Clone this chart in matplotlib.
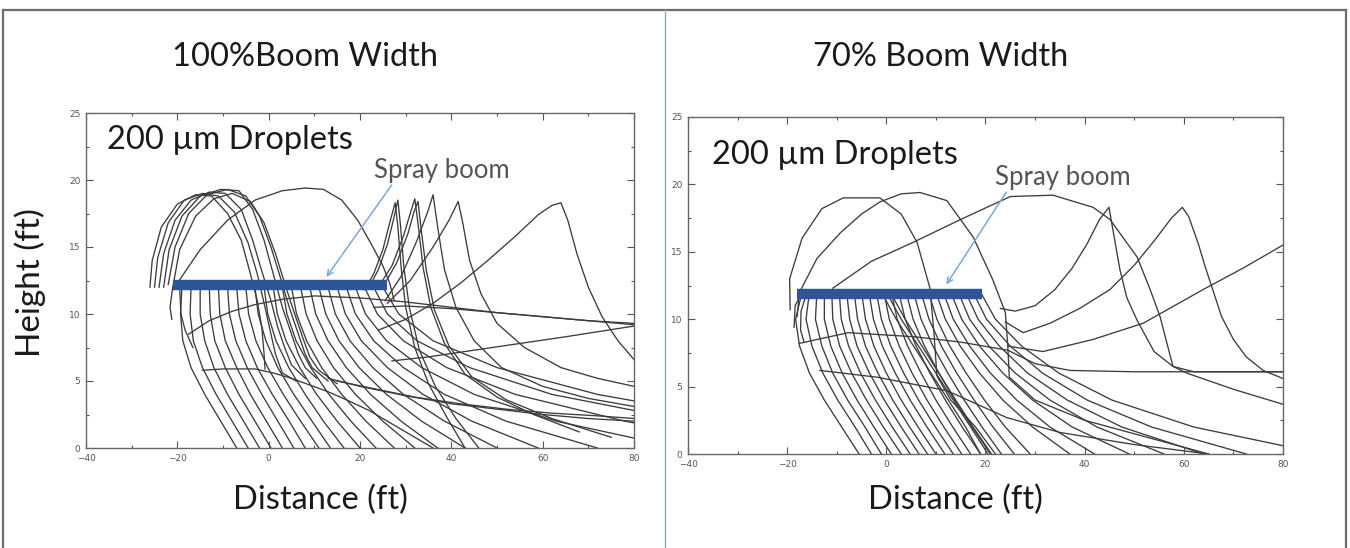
import matplotlib
matplotlib.use('Agg')
import matplotlib.pyplot as plt
from matplotlib.lines import Line2D
from matplotlib.ticker import MultipleLocator

# ---- values (feet) ----
fan_y = [12, 10, 8, 6, 4, 2, 0]

# 100% boom: x of each descending trajectory at the heights in fan_y
left_fan_x = [
    [-19, -19.3, -18.8, -17, -14, -10.5, -7],
    [-17, -17.2, -16.5, -14.5, -11.5, -8, -4.5],
    [-15, -15, -14, -12, -9, -5.5, -2],
    [-13, -12.8, -11.8, -9.5, -6.5, -3, 0.5],
    [-11, -10.7, -9.5, -7, -4, -0.5, 3],
    [-9, -8.6, -7.2, -4.7, -1.5, 2, 5.5],
    [-7, -6.5, -5, -2.5, 0.8, 4.5, 8],
    [-5, -4.4, -2.8, -0.2, 3.2, 7, 11],
    [-3, -2.3, -0.6, 2, 5.5, 9.5, 13.5],
    [-1, -0.2, 1.6, 4.4, 8, 12, 16.5],
    [1, 1.9, 3.8, 6.8, 10.5, 15, 20],
    [3, 4, 6, 9.2, 13.2, 18, 23.5],
    [5, 6.1, 8.3, 11.6, 16, 21.3, 27.5],
    [7, 8.2, 10.6, 14.2, 19, 25, 32],
    [9, 10.3, 13, 17, 22.3, 29, 37],
    [11, 12.5, 15.4, 19.8, 25.8, 33.5, 43],
    [13, 14.6, 17.8, 22.8, 29.5, 38.5, 50],
    [15, 16.8, 20.3, 26, 33.8, 44.5, 59],
    [17, 19, 23, 29.5, 38.5, 52, 72],
    [19, 21.2, 25.8, 33.5, 45, 63, 90],
    [21, 23.8, 29.5, 39, 54, 78, 110],
    [23, 26, 32.5, 44, 62, 92, 130],
    [25, 28.5, 36, 50, 72, 105, 150],
]

# 100% boom: loops, spikes and cross lines as (x list, y list)
left_paths = [
    ([-26, -25.5, -23.5, -20, -16, -12.5, -9, -6, -4, -2.5, -1.5, -1, -0.8],
     [12, 14, 16.5, 18.2, 18.9, 18.8, 17.5, 15.5, 13, 11, 9, 7, 5.9]),
    ([-25, -24.3, -22, -18.5, -14.5, -11, -7.5, -4.5, -2.5, -0.8, 0.5, 1.5, 3, 6],
     [12, 14.2, 16.8, 18.5, 19, 18.8, 17.6, 15.3, 13, 10.5, 8.5, 7, 5.6, 5]),
    ([-24, -23, -20.5, -17, -13, -9.5, -6, -3.5, -1.5, 0.5, 2, 3.5, 5, 8],
     [12, 14.5, 17, 18.5, 19.1, 19, 17.8, 15.5, 13.2, 11, 9, 7.5, 6.2, 5.2]),
    ([-23, -21.8, -19, -15, -10.5, -6.5, -3.5, -1, 1, 3, 5, 6.5, 8, 10.5],
     [12, 14.8, 17.3, 18.8, 19.3, 19.2, 17.8, 15.5, 13, 10.5, 8.5, 7, 6, 5.2]),
    ([-22, -20.5, -17.5, -13.5, -9, -5, -2, 0.5, 2.5, 4.5, 6.5, 8, 9.5, 13],
     [12.2, 15, 17.5, 18.9, 19.3, 18.8, 17.3, 15, 12.8, 10.5, 8.5, 7, 6, 5]),
    ([-21, -19.5, -16, -12, -8, -4, -1, 1.5, 3.5, 5.5, 7.5, 9, 11, 15],
     [12, 14.8, 17.3, 18.6, 19, 18.4, 16.8, 14.5, 12.3, 10.2, 8.2, 6.8, 5.8, 4.8]),
    ([-20, -15, -9, -3, 3, 8, 12, 16, 19.5, 22.5, 25, 26.5, 27.5],
     [12.3, 14.8, 17, 18.5, 19.2, 19.4, 19.3, 18.5, 17, 15.2, 13.6, 12.3, 11]),
    ([-14.5, -10, -6, -3, 1, 5, 9, 13, 17, 22, 27, 31, 36],
     [5.8, 5.9, 5.9, 5.9, 5.6, 5.2, 4.7, 4.2, 3.6, 2.8, 1.8, 1, 0]),
    ([13, 20, 30, 40, 50, 60, 70, 80], [5.2, 4.6, 3.9, 3.3, 2.9, 2.5, 2.2, 2.0]),
    ([15, 22, 32, 42, 52, 62, 72, 80], [5.0, 4.5, 3.8, 3.3, 2.9, 2.6, 2.4, 2.2]),
    ([21, 23, 25, 26.5, 27.7, 28.3, 29, 30, 32, 35, 39, 43],
     [11.8, 13, 14.8, 16.8, 18.3, 16.5, 13.5, 10.5, 7.5, 4.8, 2.3, 0]),
    ([22, 24, 26, 27.3, 28.3, 28.9, 29.6, 30.8, 33, 36.5, 41, 46],
     [12, 13.3, 15.2, 17, 18.5, 16.5, 13.5, 10.5, 7.3, 4.6, 2.2, 0]),
    ([24, 27, 29.5, 31, 32, 32.8, 33.8, 35.5, 38.5, 43, 50, 58, 68],
     [12, 13.6, 15.8, 17.5, 18.6, 16.5, 13.5, 10.5, 7.8, 5.5, 3.8, 2.5, 1.2]),
    ([25, 28, 30.5, 31.8, 32.7, 33.4, 34.5, 36.3, 39.5, 44.5, 52, 62, 75],
     [12, 13.8, 16, 17.6, 18.4, 16.3, 13.3, 10.3, 7.6, 5.3, 3.6, 2.2, 0.8]),
    ([25.5, 29, 32.5, 35, 36, 37, 38.5, 41, 45, 51, 60, 70, 80],
     [11, 12.8, 15.5, 17.8, 18.9, 16.5, 13.3, 10.5, 8, 6, 4.6, 3.7, 3.1]),
    ([26, 31, 36, 39.5, 41.5, 42.5, 44, 46.5, 50, 56, 64, 72, 80],
     [10.8, 12.5, 15, 17, 18.4, 16.8, 14, 11.5, 9.3, 7.5, 6, 5.2, 4.6]),
    ([24, 30, 36, 42, 48, 54, 59, 62, 64, 65.5, 67.5, 70, 73, 76.5, 80],
     [8.8, 9.6, 10.8, 12.3, 14, 15.8, 17.4, 18.1, 18.3, 17, 14.5, 12, 9.8, 8, 6.6]),
    ([-17.5, -13, -8, -3, 3, 10, 20, 30, 40, 50, 60, 70, 80],
     [8.5, 9.5, 10.2, 10.7, 11.1, 11.35, 11.2, 10.9, 10.5, 10.1, 9.8, 9.5, 9.2]),
    ([23, 30, 40, 50, 60, 70, 80], [10.5, 10.6, 10.4, 10.1, 9.8, 9.5, 9.3]),
    ([27, 35, 45, 55, 65, 80], [6.5, 6.8, 7.3, 7.8, 8.3, 9.1]),
    ([-21, -21.6, -21.2], [12, 10.5, 9.6]),
    ([-19.5, -19.2, -18.3, -16.6], [12, 10, 8.8, 7.5]),
]

# 70% boom
right_fan_x = [
    [-17, -18.3, -17.5, -15.5, -12.5, -9, -5.5],
    [-15.5, -16.2, -15, -12.8, -9.8, -6.3, -3],
    [-14, -14.3, -13, -10.8, -7.8, -4.3, -1],
    [-12.5, -12.5, -11.2, -8.9, -5.9, -2.5, 1],
    [-11, -10.8, -9.4, -7, -4, -0.6, 3],
    [-9.5, -9.1, -7.6, -5.2, -2.2, 1.2, 4.8],
    [-8, -7.4, -5.9, -3.4, -0.4, 3, 6.6],
    [-6.5, -5.8, -4.2, -1.7, 1.3, 4.7, 8.3],
    [-5, -4.2, -2.5, 0, 3, 6.4, 10],
    [-3.5, -2.6, -0.8, 1.8, 4.8, 8.2, 11.8],
    [-2, -1, 0.9, 3.5, 6.5, 9.9, 13.5],
    [-1, 2, 5.5, 9, 12.5, 16, 19],
    [-0.5, 0.6, 2.6, 5.2, 8.2, 11.6, 15.2],
    [0, 3, 6.5, 10, 13.5, 17, 20.5],
    [0.8, 3.8, 7.2, 10.6, 14, 17.5, 21.2],
    [1, 2.2, 4.3, 7, 10, 13.4, 17],
    [2.5, 3.8, 6, 8.8, 11.9, 15.3, 19],
    [4, 5.4, 7.7, 10.6, 13.8, 17.3, 21],
    [5.5, 7, 9.4, 12.4, 15.7, 19.3, 23.2],
    [7, 8.6, 11.1, 14.2, 17.7, 21.5, 25.8],
    [8.5, 10.2, 12.8, 16.1, 19.8, 24, 29],
    [10, 11.9, 14.9, 18.8, 23.5, 29.5, 37],
    [11.5, 13.5, 16.8, 21, 26.3, 33, 42],
    [13, 15.2, 18.8, 23.5, 29.5, 37.5, 49],
    [14.5, 16.8, 20.7, 26, 33, 42.5, 56],
    [16, 18.5, 22.8, 28.5, 36.5, 47.5, 64],
    [17.5, 20.2, 25, 31.5, 40.5, 53.5, 72.6],
    [19, 22, 27.3, 34.8, 45.5, 62, 88],
]

right_paths = [
    ([-19.4, -19.5, -17, -13, -8.7, -1.3, 3, 6.2, 8.8, 9.6, 10.2, 13, 18, 22],
     [10.7, 13, 16, 18.2, 19, 19, 17.8, 15.7, 12.3, 9, 5.8, 4, 2, 0]),
    ([-18, -17.5, -14, -9.3, -5, -1.3, 3, 6.8, 12.2, 17.5, 21.5, 24, 24.5, 24.8, 30, 40, 55, 65],
     [10.2, 12, 14.5, 16.4, 17.8, 18.7, 19.3, 19.4, 18.8, 16.1, 12.9, 10.5, 8, 5.7, 4, 2.5, 1, 0]),
    ([-10.8, -3, 5.4, 15, 25, 33.6, 41.7, 45.1, 50.6, 53.2, 55.2, 57.8, 60.6, 70, 80.8],
     [12.3, 14.3, 15.7, 17.4, 19.1, 19.2, 18.3, 17.4, 14.6, 12.2, 10.2, 6.5, 6.0, 4.8, 3.6]),
    ([23, 26, 30, 34, 37.5, 40.5, 43, 44.9, 46, 47.1, 48.5, 50.6, 54, 57.8, 62, 70, 80],
     [10.8, 10.6, 11.0, 12.2, 13.8, 15.6, 17.4, 18.3, 16, 13.7, 11.6, 9.9, 7.6, 6.5, 6.1, 6.1, 6.1]),
    ([24, 27.6, 33, 39, 45.1, 50, 54, 57.5, 59.7, 61, 63, 64.3, 66, 67.6, 70, 72.6, 76, 80],
     [9.8, 9.0, 9.7, 10.8, 12.2, 14, 15.8, 17.5, 18.3, 17.6, 15.5, 13.9, 12, 10.2, 8.5, 7.2, 6.2, 5.6]),
    ([24.5, 31.6, 41.7, 51.8, 63.9, 72, 80], [8.0, 7.6, 8.5, 9.7, 12.2, 13.8, 15.5]),
    ([-17.6, -7.7, 5.6, 15, 24.5, 30, 37, 50, 80.8],
     [8.2, 9, 8.7, 8.3, 7.7, 6.7, 6.2, 6.1, 6.1]),
    ([-13.4, -1.9, 12.2, 24.3, 35, 50, 65],
     [6.2, 5.7, 4.7, 2.7, 1.6, 0.7, 0]),
    ([-17, -18.4, -18.6], [12, 11, 9.4]),
    ([-16, -17.2, -17.3, -16.6], [12, 10.6, 9.2, 8.3]),
]

left_boom_x, left_boom_y = [-21, 26], 12.2
right_boom_x, right_boom_y = [-18, 19.2], 11.9

LINE = '#3c3c3c'
BOOM = '#2f5597'
ARROW = '#7fa6dc'
FONT = 'Lato'

fig = plt.figure(figsize=(13.5, 5.48), dpi=100)
ax_l = fig.add_axes([86 / 1350, 100 / 548, 548 / 1350, 335 / 548])
ax_r = fig.add_axes([688 / 1350, 94 / 548, 595 / 1350, 337 / 548])


def draw_panel(ax, fan_x, paths, boom_x, boom_y, arrow_tail, arrow_head, label_xy, note_xy):
    for xs in fan_x:
        ax.plot(xs, fan_y, color=LINE, lw=0.95)
    for xs, ys in paths:
        ax.plot(xs, ys, color=LINE, lw=0.95)
    ax.plot(boom_x, [boom_y, boom_y], color=BOOM, lw=7.5, solid_capstyle='butt', zorder=5)
    ax.annotate('', xy=arrow_head, xytext=arrow_tail,
                arrowprops=dict(arrowstyle='->', color=ARROW, lw=1.1), zorder=6)
    ax.text(*note_xy, 'Spray boom', fontsize=18.5, color='#555555', family=FONT,
            ha='left', va='center', zorder=6)
    ax.text(*label_xy, '200 µm Droplets', fontsize=23.5, color='#1a1a1a', family=FONT,
            ha='left', va='center', zorder=6)
    ax.set_xlim(-40, 80)
    ax.set_ylim(0, 25)
    ax.xaxis.set_major_locator(MultipleLocator(20))
    ax.xaxis.set_minor_locator(MultipleLocator(10))
    ax.yaxis.set_major_locator(MultipleLocator(5))
    ax.yaxis.set_minor_locator(MultipleLocator(2.5))
    ax.tick_params(which='both', direction='in', top=True, right=True,
                   color='#555555', width=0.8, labelsize=6.5, labelcolor='#555555', pad=4)
    ax.tick_params(which='major', length=5)
    ax.tick_params(which='minor', length=2.5)
    for s in ax.spines.values():
        s.set_color('#666666')
        s.set_linewidth(1)


draw_panel(ax_l, left_fan_x, left_paths, left_boom_x, left_boom_y,
           (27.3, 19.8), (12.3, 12.6), (-35.4, 23), (23, 20.7))
draw_panel(ax_r, right_fan_x, right_paths, right_boom_x, right_boom_y,
           (24.5, 19.6), (11.8, 12.4), (-35.2, 22.2), (21.9, 20.5))


def px(x, y):
    return x / 1350, 1 - y / 548


fig.text(*px(305, 57), '100%Boom Width', fontsize=23.5, family=FONT, color='#1a1a1a',
         ha='center', va='center')
fig.text(*px(941, 57), '70% Boom Width', fontsize=23.5, family=FONT, color='#1a1a1a',
         ha='center', va='center')
fig.text(*px(30, 283), 'Height (ft)', fontsize=24, family=FONT, color='#1a1a1a',
         ha='center', va='center', rotation=90)
fig.text(*px(320, 500), 'Distance (ft)', fontsize=23.5, family=FONT, color='#1a1a1a',
         ha='center', va='center')
fig.text(*px(955, 500), 'Distance (ft)', fontsize=23.5, family=FONT, color='#1a1a1a',
         ha='center', va='center')

# page frame and divider
frame = [((3, 10), (1346, 10)), ((3, 10), (3, 548)), ((1346, 10), (1346, 548))]
for (x1, y1), (x2, y2) in frame:
    a, b = px(x1, y1), px(x2, y2)
    fig.add_artist(Line2D([a[0], b[0]], [a[1], b[1]], transform=fig.transFigure,
                          color='#6d6d6d', lw=1.6))
a, b = px(665, 10), px(665, 548)
fig.add_artist(Line2D([a[0], b[0]], [a[1], b[1]], transform=fig.transFigure,
                      color='#8eaadb', lw=1))

fig.savefig('out.png', dpi=100, facecolor='white')
